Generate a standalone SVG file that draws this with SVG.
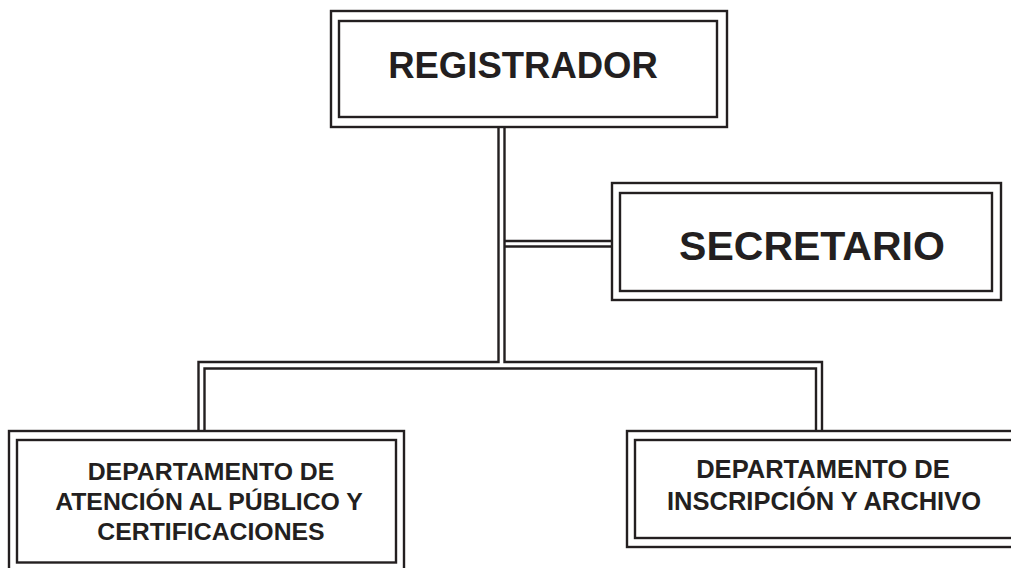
<svg xmlns="http://www.w3.org/2000/svg" width="1011" height="568" viewBox="0 0 1011 568">
<style>
.b{fill:none;stroke:#231f20;stroke-width:2.4}
.c{fill:none;stroke:#231f20;stroke-width:2.4}
text{font-family:"Liberation Sans",Arial,sans-serif;font-weight:bold;fill:#231f20;text-anchor:middle}
</style>
<rect width="1011" height="568" fill="#ffffff"/>
<g id="connectors">
<path class="c" d="M498.5,127 V362 H198.5 V431"/>
<path class="c" d="M504.5,127 V362 H822 V431"/>
<path class="c" d="M204.5,431 V368.5 H816 V431"/>
<path class="c" d="M504.5,241 H612"/>
<path class="c" d="M504.5,246.5 H612"/>
</g>
<g id="registrador">
<rect class="b" x="331" y="11" width="396" height="116" fill="#fff"/>
<rect class="b" x="339" y="21" width="378" height="96"/>
<text x="523" y="78" font-size="36.5">REGISTRADOR</text>
</g>
<g id="secretario">
<rect class="b" x="612" y="183" width="389" height="117" fill="#fff"/>
<rect class="b" x="620" y="193" width="372" height="98"/>
<text x="812" y="260" font-size="41">SECRETARIO</text>
</g>
<g id="dept-atencion">
<rect class="b" x="9" y="431" width="395" height="141" fill="#fff"/>
<rect class="b" x="17" y="440" width="379" height="122.5"/>
<text font-size="24.8"><tspan x="211" y="480">DEPARTAMENTO DE</tspan><tspan x="209" y="510">ATENCIÓN AL PÚBLICO Y</tspan><tspan x="211" y="540">CERTIFICACIONES</tspan></text>
</g>
<g id="dept-inscripcion">
<rect class="b" x="627" y="431" width="400" height="116" fill="#fff"/>
<rect class="b" x="635" y="440" width="384" height="98"/>
<text font-size="25.5"><tspan x="823" y="478">DEPARTAMENTO DE</tspan><tspan x="824" y="510">INSCRIPCIÓN Y ARCHIVO</tspan></text>
</g>
</svg>
